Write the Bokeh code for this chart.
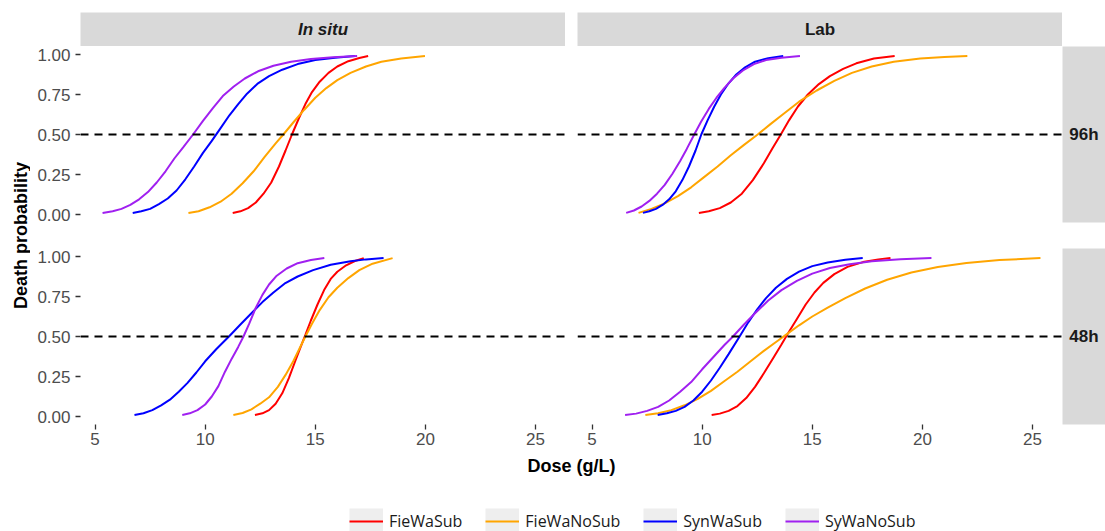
import math
from bokeh.plotting import figure
from bokeh.models import Range1d, Spacer, Legend, LegendItem, FixedTicker, NumeralTickFormatter, Span
from bokeh.layouts import row, column
from bokeh.embed import file_html
from bokeh.resources import INLINE
from bokeh.core.properties import value

# ---------------- data ----------------
series_names = ["FieWaSub", "FieWaNoSub", "SynWaSub", "SyWaNoSub"]
series_colors = ["#FF0000", "#FFA500", "#0000FF", "#A020F0"]
sites = ["In situ", "Lab"]
times = ["96h", "48h"]
x_ticks = [5, 10, 15, 20, 25]
y_ticks = [0.0, 0.25, 0.5, 0.75, 1.0]
threshold = 0.5
x_title = "Dose (g/L)"
y_title = "Death probability"

# In situ, 96h
insitu96_fws_x = [11.25, 11.6, 11.95, 12.3, 12.65, 13.0, 13.35, 13.65, 13.94, 14.25, 14.55, 14.85, 15.2, 15.6, 16.0, 16.5, 17.0, 17.4]
insitu96_fws_y = [0.01, 0.02, 0.04, 0.075, 0.13, 0.2, 0.3, 0.4, 0.5, 0.6, 0.69, 0.765, 0.83, 0.885, 0.925, 0.958, 0.978, 0.99]
insitu96_fwn_x = [9.24, 9.7, 10.2, 10.7, 11.2, 11.7, 12.2, 12.7, 13.2, 13.55, 14.0, 14.5, 15.0, 15.5, 16.0, 16.6, 17.3, 18.0, 18.9, 19.98]
insitu96_fwn_y = [0.01, 0.02, 0.045, 0.08, 0.13, 0.195, 0.27, 0.36, 0.445, 0.5, 0.575, 0.655, 0.73, 0.79, 0.84, 0.885, 0.925, 0.955, 0.975, 0.99]
insitu96_sws_x = [6.71, 7.1, 7.5, 7.9, 8.3, 8.7, 9.1, 9.5, 9.9, 10.3, 10.7, 11.1, 11.5, 11.9, 12.4, 12.9, 13.5, 14.2, 15.0, 15.9, 16.8]
insitu96_sws_y = [0.01, 0.02, 0.035, 0.065, 0.1, 0.15, 0.22, 0.3, 0.385, 0.46, 0.54, 0.62, 0.69, 0.755, 0.82, 0.865, 0.905, 0.94, 0.965, 0.98, 0.99]
insitu96_swn_x = [5.34, 5.8, 6.2, 6.6, 7.0, 7.4, 7.8, 8.2, 8.6, 9.0, 9.45, 9.9, 10.35, 10.8, 11.3, 11.8, 12.4, 13.1, 13.9, 14.8, 15.8, 16.9]
insitu96_swn_y = [0.01, 0.02, 0.035, 0.06, 0.095, 0.14, 0.2, 0.27, 0.35, 0.42, 0.5, 0.585, 0.665, 0.74, 0.8, 0.85, 0.895, 0.93, 0.955, 0.972, 0.983, 0.99]

# Lab, 96h
lab96_fws_x = [9.85, 10.3, 10.8, 11.3, 11.8, 12.3, 12.8, 13.2, 13.57, 13.95, 14.35, 14.8, 15.3, 15.8, 16.4, 17.0, 17.8, 18.74]
lab96_fws_y = [0.01, 0.02, 0.04, 0.075, 0.13, 0.215, 0.32, 0.415, 0.5, 0.59, 0.675, 0.75, 0.815, 0.865, 0.91, 0.945, 0.975, 0.99]
lab96_fwn_x = [7.11, 7.7, 8.3, 8.9, 9.5, 10.1, 10.7, 11.3, 11.9, 12.52, 13.1, 13.7, 14.4, 15.2, 16.0, 16.8, 17.7, 18.7, 19.9, 21.0, 22.04]
lab96_fwn_y = [0.01, 0.035, 0.07, 0.115, 0.17, 0.235, 0.3, 0.37, 0.435, 0.5, 0.565, 0.63, 0.705, 0.775, 0.835, 0.885, 0.925, 0.955, 0.975, 0.985, 0.99]
lab96_sws_x = [7.31, 7.6, 7.9, 8.2, 8.5, 8.8, 9.1, 9.4, 9.7, 9.96, 10.25, 10.55, 10.85, 11.2, 11.55, 11.95, 12.4, 13.0, 13.68]
lab96_sws_y = [0.01, 0.02, 0.035, 0.06, 0.095, 0.145, 0.215, 0.3, 0.4, 0.5, 0.59, 0.675, 0.75, 0.82, 0.875, 0.92, 0.955, 0.977, 0.99]
lab96_swn_x = [6.55, 6.9, 7.25, 7.6, 7.95, 8.3, 8.65, 9.0, 9.3, 9.64, 9.95, 10.3, 10.65, 11.0, 11.4, 11.85, 12.35, 12.9, 13.6, 14.44]
lab96_swn_y = [0.01, 0.025, 0.05, 0.085, 0.13, 0.185, 0.255, 0.335, 0.41, 0.5, 0.58, 0.66, 0.73, 0.79, 0.85, 0.9, 0.94, 0.965, 0.98, 0.99]

# In situ, 48h
insitu48_fws_x = [12.26, 12.6, 12.9, 13.2, 13.5, 13.8, 14.1, 14.35, 14.55, 14.8, 15.1, 15.4, 15.7, 16.0, 16.4, 16.8, 17.2]
insitu48_fws_y = [0.01, 0.02, 0.04, 0.08, 0.145, 0.24, 0.35, 0.44, 0.51, 0.6, 0.7, 0.79, 0.86, 0.905, 0.945, 0.972, 0.99]
insitu48_fwn_x = [11.28, 11.7, 12.1, 12.5, 12.9, 13.3, 13.65, 14.0, 14.3, 14.55, 14.85, 15.2, 15.6, 16.0, 16.5, 17.0, 17.6, 18.51]
insitu48_fwn_y = [0.01, 0.022, 0.045, 0.08, 0.12, 0.185, 0.26, 0.345, 0.43, 0.5, 0.58, 0.665, 0.745, 0.805, 0.865, 0.915, 0.955, 0.99]
insitu48_sws_x = [6.79, 7.2, 7.6, 8.0, 8.4, 8.8, 9.2, 9.6, 10.0, 10.5, 11.08, 11.6, 12.1, 12.6, 13.1, 13.6, 14.2, 14.9, 15.7, 16.6, 17.3, 18.1]
insitu48_sws_y = [0.01, 0.02, 0.04, 0.07, 0.105, 0.155, 0.21, 0.275, 0.345, 0.42, 0.5, 0.575, 0.645, 0.715, 0.775, 0.83, 0.875, 0.915, 0.948, 0.97, 0.982, 0.99]
insitu48_swn_x = [8.96, 9.3, 9.65, 10.0, 10.3, 10.6, 10.9, 11.2, 11.5, 11.74, 12.0, 12.3, 12.6, 12.9, 13.25, 13.7, 14.2, 14.8, 15.41]
insitu48_swn_y = [0.01, 0.02, 0.04, 0.075, 0.125, 0.19, 0.28, 0.36, 0.435, 0.5, 0.58, 0.68, 0.76, 0.825, 0.88, 0.925, 0.958, 0.978, 0.99]

# Lab, 48h
lab48_fws_x = [10.43, 10.8, 11.2, 11.6, 12.0, 12.4, 12.8, 13.2, 13.6, 13.9, 14.3, 14.7, 15.1, 15.5, 16.0, 16.6, 17.3, 18.0, 18.55]
lab48_fws_y = [0.01, 0.018, 0.035, 0.065, 0.115, 0.185, 0.27, 0.36, 0.45, 0.52, 0.61, 0.7, 0.775, 0.835, 0.89, 0.935, 0.965, 0.982, 0.99]
lab48_fwn_x = [7.42, 8.0, 8.6, 9.2, 9.8, 10.4, 11.0, 11.6, 12.2, 12.8, 13.4, 13.8, 14.4, 15.0, 15.7, 16.5, 17.4, 18.4, 19.5, 20.7, 22.0, 23.5, 25.36]
lab48_fwn_y = [0.01, 0.02, 0.04, 0.07, 0.11, 0.16, 0.22, 0.28, 0.345, 0.41, 0.47, 0.51, 0.57, 0.625, 0.68, 0.74, 0.8, 0.855, 0.9, 0.935, 0.96, 0.978, 0.99]
lab48_sws_x = [7.98, 8.4, 8.8, 9.2, 9.6, 10.0, 10.4, 10.8, 11.2, 11.7, 12.1, 12.5, 12.9, 13.35, 13.85, 14.4, 15.0, 15.7, 16.5, 17.29]
lab48_sws_y = [0.01, 0.02, 0.035, 0.06, 0.1, 0.155, 0.225, 0.305, 0.39, 0.5, 0.59, 0.67, 0.74, 0.805, 0.86, 0.905, 0.94, 0.963, 0.98, 0.99]
lab48_swn_x = [6.5, 7.0, 7.5, 8.0, 8.5, 9.0, 9.5, 10.0, 10.5, 11.0, 11.4, 11.9, 12.4, 13.0, 13.6, 14.3, 15.0, 15.8, 16.7, 17.7, 19.0, 20.41]
lab48_swn_y = [0.01, 0.018, 0.035, 0.06, 0.1, 0.155, 0.215, 0.295, 0.37, 0.445, 0.5, 0.575, 0.645, 0.725, 0.79, 0.848, 0.893, 0.928, 0.952, 0.97, 0.983, 0.99]

curves = {
    ("In situ", "96h"): [(insitu96_fws_x, insitu96_fws_y), (insitu96_fwn_x, insitu96_fwn_y),
                         (insitu96_sws_x, insitu96_sws_y), (insitu96_swn_x, insitu96_swn_y)],
    ("Lab", "96h"): [(lab96_fws_x, lab96_fws_y), (lab96_fwn_x, lab96_fwn_y),
                     (lab96_sws_x, lab96_sws_y), (lab96_swn_x, lab96_swn_y)],
    ("In situ", "48h"): [(insitu48_fws_x, insitu48_fws_y), (insitu48_fwn_x, insitu48_fwn_y),
                         (insitu48_sws_x, insitu48_sws_y), (insitu48_swn_x, insitu48_swn_y)],
    ("Lab", "48h"): [(lab48_fws_x, lab48_fws_y), (lab48_fwn_x, lab48_fwn_y),
                     (lab48_sws_x, lab48_sws_y), (lab48_swn_x, lab48_swn_y)],
}

# ---------------- layout constants ----------------
FRAME_W = 485
FRAME_H = 176
LEFT_AXIS_W = 50
GAP_W = 12
STRIP_R_W = 43
STRIP_T_H = 34
TOP_PAD = 12
MID_GAP = 26
BOTTOM_AXIS_H = 30
XTITLE_H = 24
LEGEND_H = 53
YTITLE_W = 30

all_x = [v for k in curves for s in curves[k] for v in s[0]]
xmin, xmax = min(all_x), max(all_x)
xpad = 0.05 * (xmax - xmin)
XR = (xmin - xpad, xmax + xpad)
YR = (-0.05, 1.05)

STRIP_FILL = "#D9D9D9"
STRIP_TEXT = "#1A1A1A"
AX_FONT = "Liberation Sans"


def style_axis(ax):
    ax.axis_line_color = None
    ax.major_tick_line_color = "#333333"
    ax.major_tick_line_width = 1.3
    ax.major_tick_in = 0
    ax.major_tick_out = 5
    ax.minor_tick_line_color = None
    ax.major_label_text_font = AX_FONT
    ax.major_label_text_font_size = "17px"
    ax.major_label_text_color = "#4D4D4D"


def panel(site, time, left, bottom):
    w = FRAME_W + (LEFT_AXIS_W if left else GAP_W)
    h = FRAME_H + (BOTTOM_AXIS_H if bottom else MID_GAP)
    p = figure(width=w, height=h, x_range=Range1d(*XR), y_range=Range1d(*YR),
               output_backend="svg", toolbar_location=None,
               x_axis_location="below" if bottom else None,
               y_axis_location="left" if left else None,
               min_border_left=LEFT_AXIS_W if left else GAP_W, min_border_right=0,
               min_border_top=0, min_border_bottom=BOTTOM_AXIS_H if bottom else MID_GAP)
    p.outline_line_color = None
    p.grid.visible = False
    p.background_fill_color = "white"
    p.border_fill_color = "white"
    if left:
        p.yaxis.ticker = FixedTicker(ticks=y_ticks)
        p.yaxis.formatter = NumeralTickFormatter(format="0.00")
        style_axis(p.yaxis[0])
        p.yaxis.major_label_standoff = 5
    if bottom:
        p.xaxis.ticker = FixedTicker(ticks=x_ticks)
        style_axis(p.xaxis[0])
        p.xaxis.major_label_standoff = 3
    p.add_layout(Span(location=threshold, dimension="width", line_color="black",
                      line_dash="8 6", line_width=1.8))
    for (xs, ys), c in zip(curves[(site, time)], series_colors):
        p.line(xs, ys, line_color=c, line_width=2)
    return p


def strip(text, w, h, mt=0, mb=0, italic=False):
    s = figure(width=w, height=h, x_range=Range1d(0, 1), y_range=Range1d(0, 1),
               x_axis_location=None, y_axis_location=None, output_backend="svg",
               toolbar_location=None, min_border_left=0, min_border_right=0,
               min_border_top=mt, min_border_bottom=mb)
    s.background_fill_color = STRIP_FILL
    s.border_fill_color = "white"
    s.outline_line_color = None
    s.grid.visible = False
    s.text(x=[0.5], y=[0.5], text=[text], text_align="center", text_baseline="middle",
           text_font=value(AX_FONT), text_font_style="bold italic" if italic else "bold",
           text_font_size="17px", text_color=STRIP_TEXT)
    return s


TOP_H = STRIP_T_H + TOP_PAD
top_row = row(Spacer(width=LEFT_AXIS_W, height=TOP_H),
              strip(sites[0], FRAME_W, TOP_H, mt=TOP_PAD, italic=True),
              Spacer(width=GAP_W, height=TOP_H),
              strip(sites[1], FRAME_W, TOP_H, mt=TOP_PAD),
              Spacer(width=STRIP_R_W, height=TOP_H))

row96 = row(panel(sites[0], times[0], True, False),
            panel(sites[1], times[0], False, False),
            strip(times[0], STRIP_R_W, FRAME_H + MID_GAP, mb=MID_GAP))
row48 = row(panel(sites[0], times[1], True, True),
            panel(sites[1], times[1], False, True),
            strip(times[1], STRIP_R_W, FRAME_H + BOTTOM_AXIS_H, mb=BOTTOM_AXIS_H))

COL_W = LEFT_AXIS_W + FRAME_W + GAP_W + FRAME_W + STRIP_R_W

# x title
xt = figure(width=COL_W, height=XTITLE_H, x_range=Range1d(0, COL_W), y_range=Range1d(0, XTITLE_H),
            x_axis_location=None, y_axis_location=None, output_backend="svg", toolbar_location=None,
            min_border=0)
xt.outline_line_color = None
xt.grid.visible = False
xt.text(x=[LEFT_AXIS_W + (2 * FRAME_W + GAP_W) / 2], y=[XTITLE_H - 11], text=[x_title],
        text_align="center", text_baseline="middle", text_font=value(AX_FONT),
        text_font_style="bold", text_font_size="18px", text_color="black")

# legend (dummy renderers placed outside the visible range, only used for legend keys)
lg = figure(width=COL_W, height=LEGEND_H, x_range=Range1d(0, 1), y_range=Range1d(0, 1),
            x_axis_location=None, y_axis_location=None, output_backend="svg", toolbar_location=None,
            min_border=0)
lg.outline_line_color = None
lg.grid.visible = False
items = []
for name, c in zip(series_names, series_colors):
    rb = lg.line(x=[5, 6], y=[5, 6], line_color="#EEEEEE", line_width=26, line_cap="butt")
    rl = lg.line(x=[5, 6], y=[5, 6], line_color=c, line_width=2.2)
    items.append(LegendItem(label=name, renderers=[rb, rl]))
legend = Legend(items=items, orientation="horizontal", location=(319, -3),
                glyph_width=34, glyph_height=26, label_standoff=6, spacing=23,
                padding=0, margin=0, border_line_color=None, background_fill_alpha=0,
                label_text_font="Open Sans", label_text_font_size="16px",
                label_text_color="#1A1A1A")
lg.add_layout(legend)

main_col = column(top_row, row96, row48, xt, lg)
TOTAL_H = TOP_H + FRAME_H + MID_GAP + FRAME_H + BOTTOM_AXIS_H + XTITLE_H + LEGEND_H

# y title
yt = figure(width=YTITLE_W, height=TOTAL_H, x_range=Range1d(0, YTITLE_W), y_range=Range1d(0, TOTAL_H),
            x_axis_location=None, y_axis_location=None, output_backend="svg", toolbar_location=None,
            min_border=0)
yt.outline_line_color = None
yt.grid.visible = False
ymid_from_top = TOP_H + (FRAME_H * 2 + MID_GAP) / 2
yt.text(x=[20], y=[TOTAL_H - ymid_from_top], text=[y_title], angle=math.pi / 2,
        text_align="center", text_baseline="middle", text_font=value(AX_FONT),
        text_font_style="bold", text_font_size="18px", text_color="black")

layout = row(yt, main_col)

open("out.html", "w").write(file_html(layout, INLINE))
